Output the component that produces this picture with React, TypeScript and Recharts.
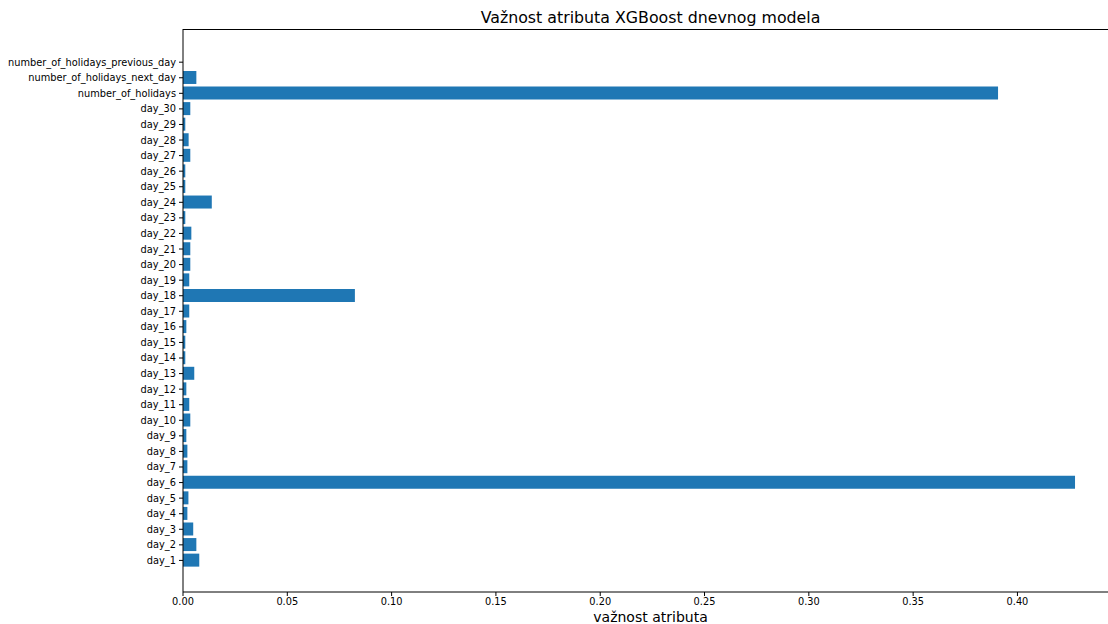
import { BarChart, Bar, XAxis, YAxis } from 'recharts';

// feature names, bottom to top as in the original plot
const features = [
  'day_1', 'day_2', 'day_3', 'day_4', 'day_5', 'day_6', 'day_7', 'day_8', 'day_9', 'day_10',
  'day_11', 'day_12', 'day_13', 'day_14', 'day_15', 'day_16', 'day_17', 'day_18', 'day_19', 'day_20',
  'day_21', 'day_22', 'day_23', 'day_24', 'day_25', 'day_26', 'day_27', 'day_28', 'day_29', 'day_30',
  'number_of_holidays', 'number_of_holidays_next_day', 'number_of_holidays_previous_day',
];

const importance = [
  0.0078, 0.0064, 0.0049, 0.0021, 0.0026, 0.4276, 0.0021, 0.0021, 0.0016, 0.0035,
  0.003, 0.0016, 0.0054, 0.0011, 0.0011, 0.0016, 0.003, 0.0824, 0.003, 0.0035,
  0.0035, 0.004, 0.0011, 0.0138, 0.0011, 0.0011, 0.0035, 0.0027, 0.0011, 0.0035,
  0.3907, 0.0064, 0,
];

const xTicks = [0, 0.05, 0.1, 0.15, 0.2, 0.25, 0.3, 0.35, 0.4];

const data = features.map((name, i) => ({ name, value: importance[i] }));

const FONT = '"DejaVu Sans", sans-serif';
const W = 1108;
const H = 624;
// the axes run a little past the right edge of the picture (right spine is cut off)
const plot = { left: 183, top: 29, right: 1118, bottom: 592 };
const CHART_W = plot.right + 1;

export default function App() {
  return (
    <div style={{ position: 'absolute', left: 0, top: 0, width: W, height: H, background: '#fff', fontFamily: FONT, overflow: 'hidden' }}>
      <div
        style={{
          position: 'absolute', left: plot.left, width: plot.right - plot.left, top: 8,
          textAlign: 'center', fontSize: 15.8, color: '#000', lineHeight: '19px', whiteSpace: 'nowrap',
        }}
      >
        Važnost atributa XGBoost dnevnog modela
      </div>
      <BarChart
        width={CHART_W}
        height={H}
        data={data}
        layout="vertical"
        margin={{ top: plot.top, right: CHART_W - plot.right, left: 0, bottom: 0 }}
      >
        <XAxis
          type="number"
          domain={[0, 0.4482]}
          ticks={xTicks}
          tickFormatter={(v: number) => v.toFixed(2)}
          height={H - plot.bottom}
          tick={{ fontSize: 9.8, fill: '#000', fontFamily: FONT }}
          tickSize={4}
          tickMargin={2}
          stroke="#000"
          allowDataOverflow
        />
        <YAxis
          type="category"
          dataKey="name"
          reversed
          width={plot.left}
          interval={0}
          padding={{ top: 25.4, bottom: 23.8 }}
          tick={{ fontSize: 9.8, fill: '#000', fontFamily: FONT }}
          tickSize={4}
          tickMargin={3}
          stroke="#000"
        />
        <Bar dataKey="value" fill="#1f77b4" barSize={13} isAnimationActive={false} />
      </BarChart>
      <div
        style={{
          position: 'absolute', left: plot.left, top: plot.top,
          width: plot.right - plot.left, height: plot.bottom - plot.top,
          borderTop: '1px solid #000', borderRight: '1px solid #000',
          boxSizing: 'border-box', pointerEvents: 'none',
        }}
      />
      <div
        style={{
          position: 'absolute', left: plot.left, width: plot.right - plot.left, top: 609,
          textAlign: 'center', fontSize: 14, color: '#000', lineHeight: '17px',
        }}
      >
        važnost atributa
      </div>
    </div>
  );
}
